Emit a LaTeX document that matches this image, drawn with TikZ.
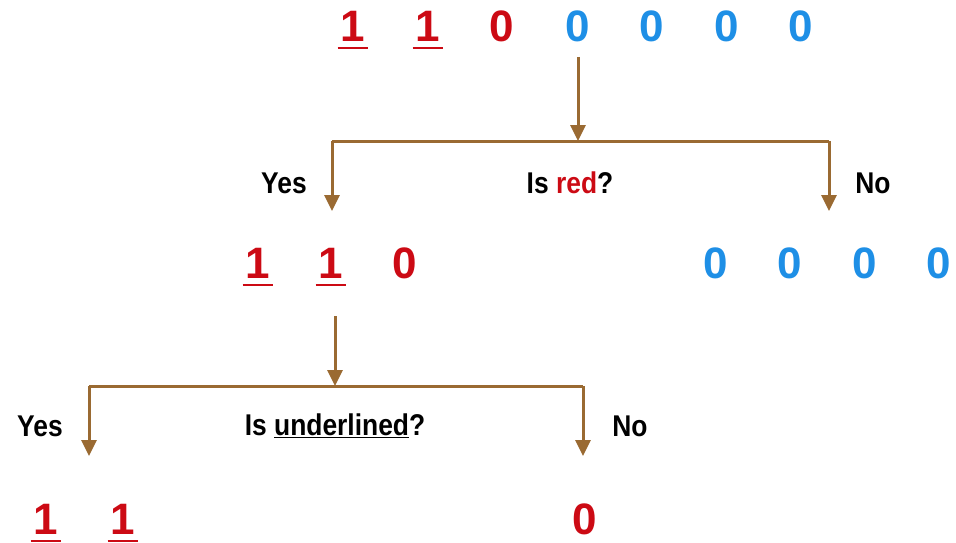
\documentclass[tikz,border=0pt]{standalone}
\usepackage{fontspec}
\setmainfont{Liberation Sans}
\usetikzlibrary{arrows.meta}
\definecolor{myred}{HTML}{CC0A14}
\definecolor{myblue}{HTML}{1E8FE6}
\definecolor{mybrown}{HTML}{9A6A32}
\tikzset{
  digit/.style={inner sep=0pt, font=\fontsize{44}{44}\selectfont\bfseries},
  rd/.style={digit, text=myred},
  bd/.style={digit, text=myblue},
  lbl/.style={inner sep=0pt, font=\fontsize{30}{30}\selectfont\bfseries, xscale=0.88},
  arr/.style={draw=mybrown, line width=3pt, -{Triangle[width=15pt,length=16pt]}},
  conn/.style={draw=mybrown, line width=3pt},
  ul/.style={draw=myred, line width=2.2pt}
}
\begin{document}
\begin{tikzpicture}[x=1pt,y=-1pt]
\useasboundingbox (0,0) rectangle (956,543);
% top row
\node[rd] (t1) at (353,26) {1};
\node[rd] (t2) at (428,26) {1};
\node[rd] (t3) at (502,26) {0};
\node[bd] (t4) at (578,26) {0};
\node[bd] (t5) at (652,26) {0};
\node[bd] (t6) at (727,26) {0};
\node[bd] (t7) at (801,26) {0};
\draw[ul] ([xshift=-3pt,yshift=-7pt]t1.south west) -- ([xshift=3pt,yshift=-7pt]t1.south east);
\draw[ul] ([xshift=-3pt,yshift=-7pt]t2.south west) -- ([xshift=3pt,yshift=-7pt]t2.south east);
% first split
\coordinate (s1) at (578,57);
\coordinate (j1) at (578,141);
\coordinate (l1) at (332,141);
\coordinate (r1) at (829,141);
\coordinate (le1) at (332,211);
\coordinate (re1) at (829,211);
\draw[arr] (s1) -- (j1);
\draw[conn] (l1) -- (r1);
\draw[arr] (l1) -- (le1);
\draw[arr] (r1) -- (re1);
\node[lbl] (yes1) at (284,183) {Yes};
\node[lbl] (q1) at (570,183) {Is \textcolor{myred}{red}?};
\node[lbl] (no1) at (873,183) {No};
% middle row
\node[rd] (m1) at (258,263) {1};
\node[rd] (m2) at (331,263) {1};
\node[rd] (m3) at (405,263) {0};
\node[bd] (m4) at (716,263) {0};
\node[bd] (m5) at (790,263) {0};
\node[bd] (m6) at (865,263) {0};
\node[bd] (m7) at (939,263) {0};
\draw[ul] ([xshift=-3pt,yshift=-7pt]m1.south west) -- ([xshift=3pt,yshift=-7pt]m1.south east);
\draw[ul] ([xshift=-3pt,yshift=-7pt]m2.south west) -- ([xshift=3pt,yshift=-7pt]m2.south east);
% second split
\coordinate (s2) at (335,316);
\coordinate (j2) at (335,386);
\coordinate (l2) at (89,386);
\coordinate (r2) at (583,386);
\coordinate (le2) at (89,456);
\coordinate (re2) at (583,456);
\draw[arr] (s2) -- (j2);
\draw[conn] (l2) -- (r2);
\draw[arr] (l2) -- (le2);
\draw[arr] (r2) -- (re2);
\node[lbl] (yes2) at (40,426) {Yes};
\node[lbl] (q2) at (335,426) {Is \underline{underlined}?};
\node[lbl] (no2) at (630,426) {No};
% bottom row
\node[rd] (b1) at (46,519) {1};
\node[rd] (b2) at (123,519) {1};
\node[rd] (b3) at (585,519) {0};
\draw[ul] ([xshift=-3pt,yshift=-7pt]b1.south west) -- ([xshift=3pt,yshift=-7pt]b1.south east);
\draw[ul] ([xshift=-3pt,yshift=-7pt]b2.south west) -- ([xshift=3pt,yshift=-7pt]b2.south east);
\end{tikzpicture}
\end{document}
